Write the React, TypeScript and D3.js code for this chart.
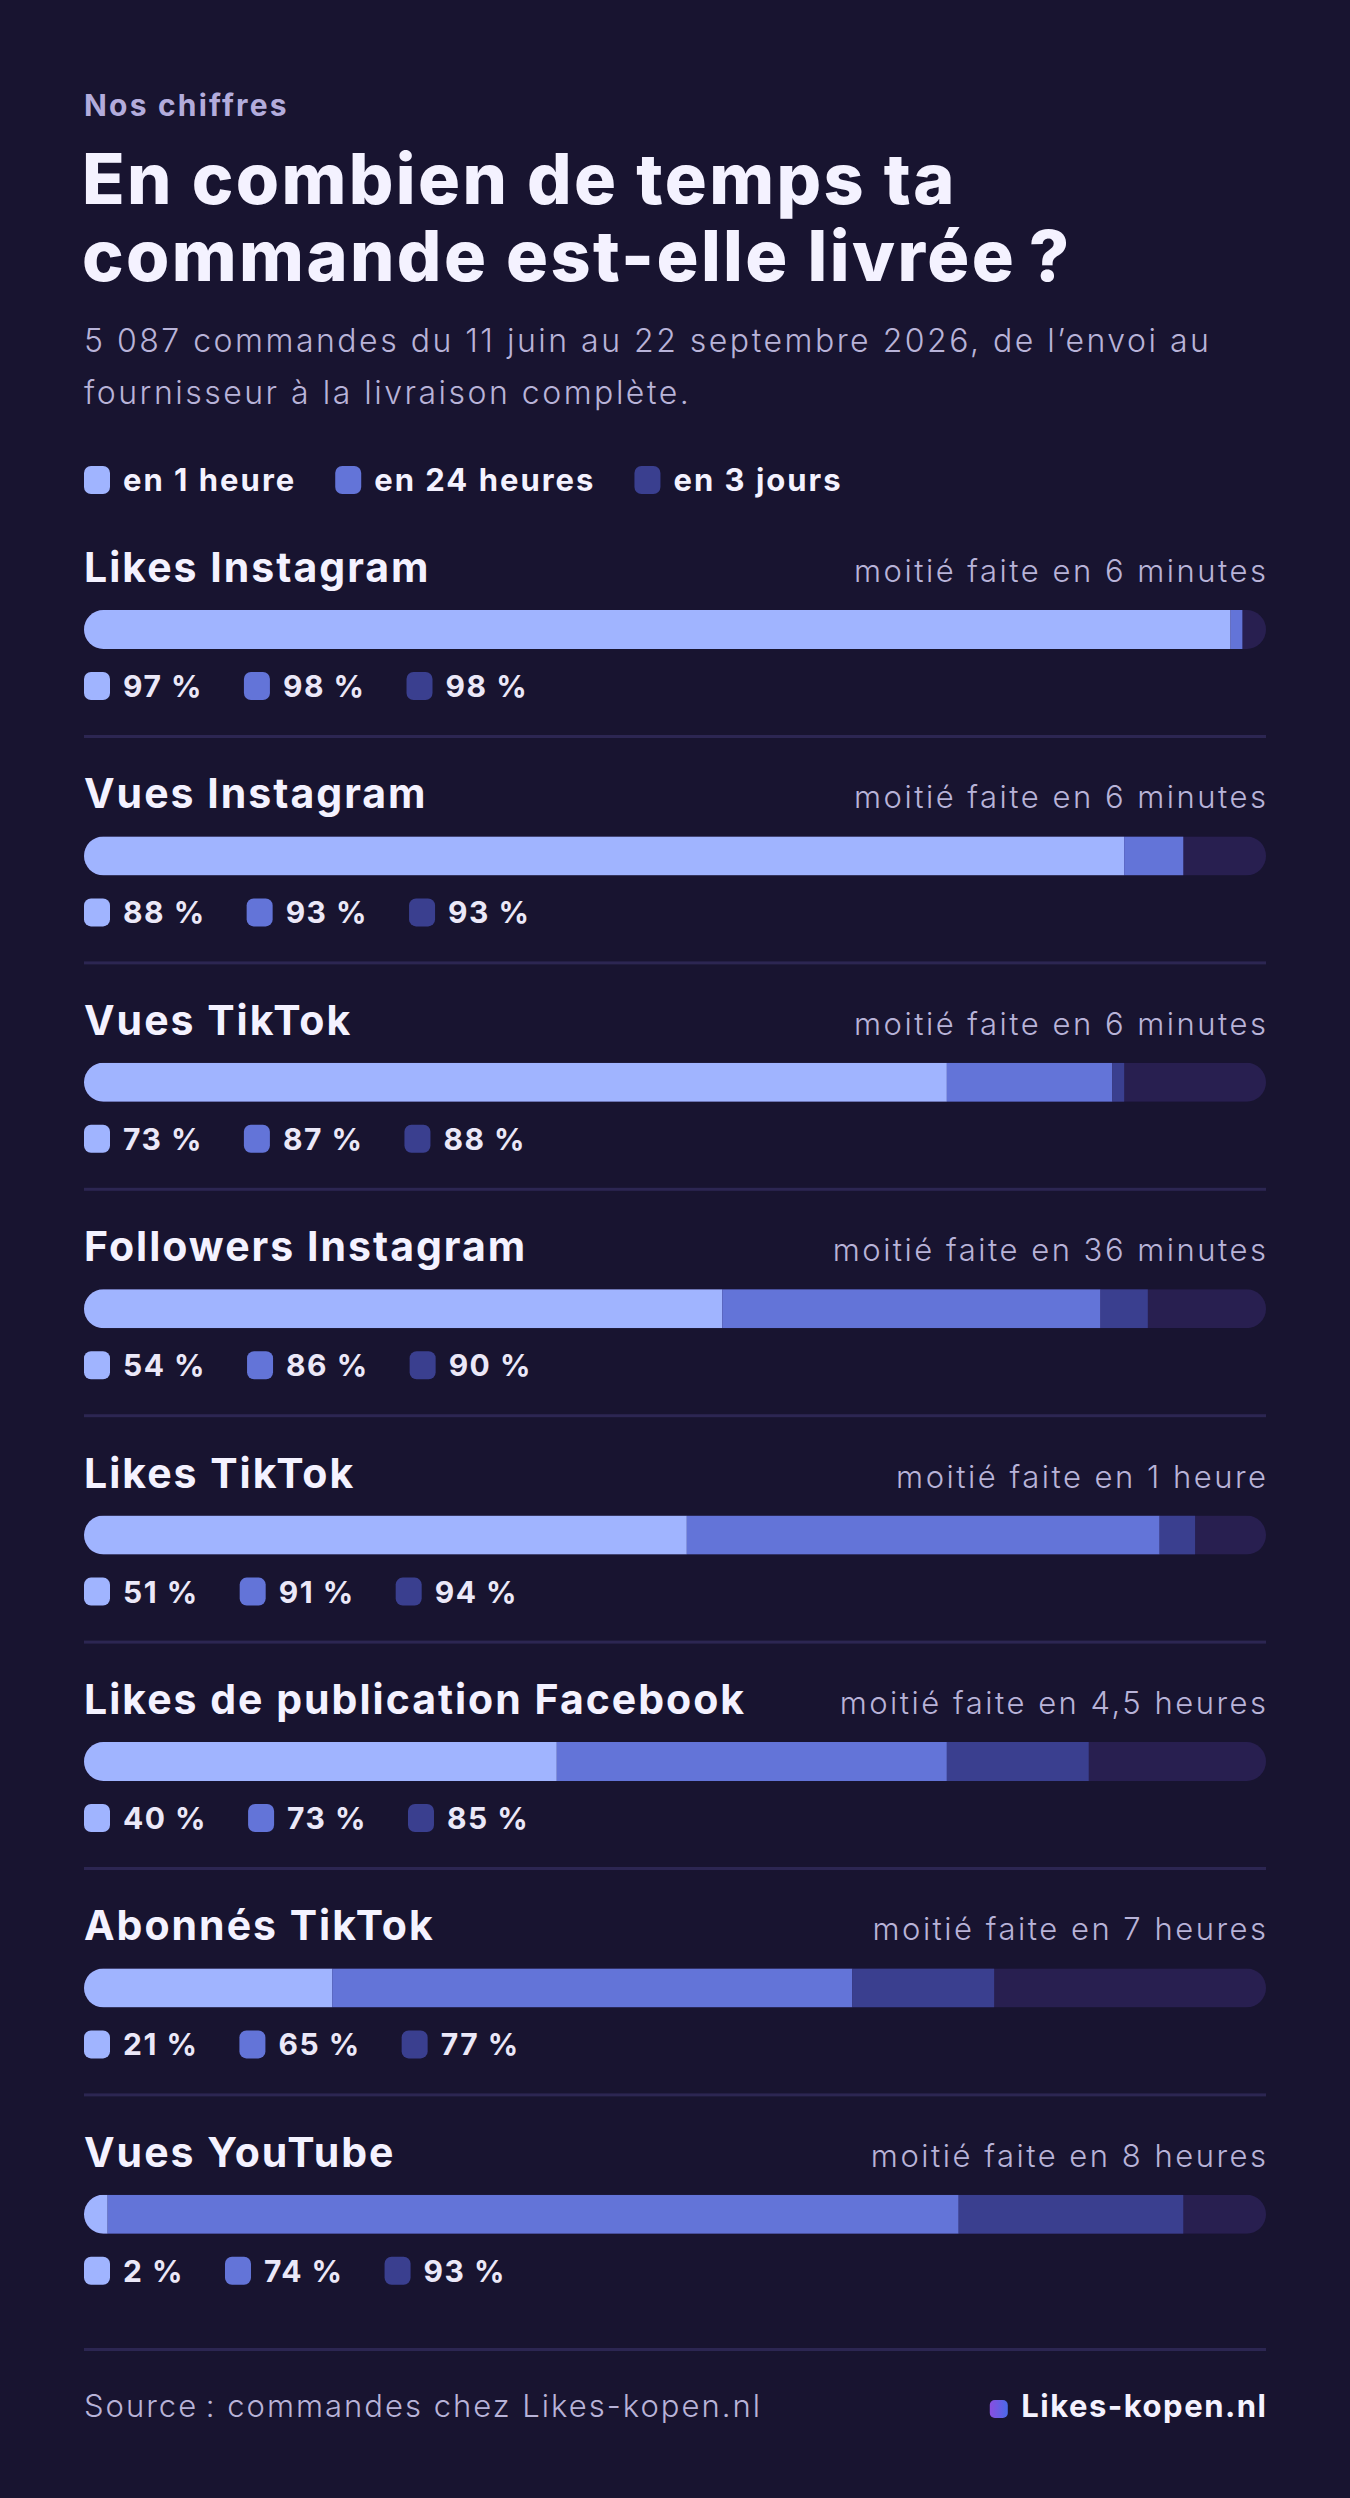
import * as d3 from 'd3';
import { useEffect, useRef } from 'react';

// Data
const categories = [
    'Likes Instagram',
    'Vues Instagram',
    'Vues TikTok',
    'Followers Instagram',
    'Likes TikTok',
    'Likes de publication Facebook',
    'Abonnés TikTok',
    'Vues YouTube',
];
const inOneHour = [97, 88, 73, 54, 51, 40, 21, 2];
const in24Hours = [98, 93, 87, 86, 91, 73, 65, 74];
const in3Days = [98, 93, 88, 90, 94, 85, 77, 93];
const halfDone = [
    '6 minutes',
    '6 minutes',
    '6 minutes',
    '36 minutes',
    '1 heure',
    '4,5 heures',
    '7 heures',
    '8 heures',
];
const legendLabels = ['en 1 heure', 'en 24 heures', 'en 3 jours'];

const W = 1350;
const H = 2498;
const FONT = 'Inter, "Noto Sans", sans-serif';
const COLORS = ['#a0b4ff', '#6374d8', '#3a3f8f'];
const TRACK = '#281f50';
const BG = '#181430';

const App = () => {
    const svgRef = useRef<SVGSVGElement>(null);

    useEffect(() => {
        const svg = d3.select(svgRef.current);
        svg.selectAll('*').remove();

        const margin = { left: 84, right: 84 };
        const x = d3.scaleLinear().domain([0, 100]).range([margin.left, W - margin.right]);

        svg.append('rect').attr('width', W).attr('height', H).attr('fill', BG);

        const defs = svg.append('defs');
        const grad = defs.append('linearGradient').attr('id', 'logoGrad');
        grad.append('stop').attr('offset', '0%').attr('stop-color', '#8a4ee0');
        grad.append('stop').attr('offset', '100%').attr('stop-color', '#4a6ae8');

        const text = (
            g: d3.Selection<any, any, any, any>,
            tx: number,
            ty: number,
            s: string,
            size: number,
            weight: number,
            fill: string,
            spacing = 0,
            anchor = 'start'
        ) =>
            g.append('text')
                .attr('x', anchor === 'end' ? tx + spacing : tx)
                .attr('y', ty)
                .attr('font-family', FONT)
                .attr('font-size', size)
                .attr('font-weight', weight)
                .attr('letter-spacing', spacing)
                .attr('fill', fill)
                .attr('text-anchor', anchor)
                .text(s);

        // Header
        text(svg, 84, 116, 'Nos chiffres', 30, 700, '#b3acdc', 2.2);
        text(svg, 82, 204, 'En combien de temps ta', 70, 800, '#f4f2ff', 2.4);
        text(svg, 82, 281, 'commande est-elle livrée\u202f?', 70, 800, '#f4f2ff', 2.4);
        text(svg, 84, 352, '5 087 commandes du 11 juin au 22 septembre 2026, de l’envoi au', 32, 300, '#b8b3d8', 2.5);
        text(svg, 84, 404, 'fournisseur à la livraison complète.', 32, 300, '#b8b3d8', 2.5);

        // Legend
        let lx = 84;
        legendLabels.forEach((lab, i) => {
            svg.append('rect')
                .attr('x', lx).attr('y', 466).attr('width', 26).attr('height', 28).attr('rx', 7)
                .attr('fill', COLORS[i]);
            const t = text(svg, lx + 39, 491, lab, 31, 700, '#f4f2ff', 2);
            const w = (t.node() as SVGTextElement).getComputedTextLength();
            lx += 39 + w + 39;
        });

        // Rows
        const pitch = 226.4;
        const barH = 39;
        categories.forEach((cat, i) => {
            const off = i * pitch;
            const g = svg.append('g').attr('transform', `translate(0,${off})`);

            text(g, 84, 582, cat, 41, 700, '#f4f2ff', 2);
            text(g, W - margin.right, 582, `moitié faite en ${halfDone[i]}`, 31, 300, '#b8b3d8', 2.5, 'end');

            const clipId = `clip-${i}`;
            defs.append('clipPath').attr('id', clipId)
                .append('rect')
                .attr('x', x(0)).attr('y', 610 + off)
                .attr('width', x(100) - x(0)).attr('height', barH)
                .attr('rx', barH / 2);

            const bars = g.append('g').attr('clip-path', `url(#${clipId})`)
                .attr('transform', `translate(0,${-off})`);
            const stops = [0, inOneHour[i], in24Hours[i], in3Days[i]];
            bars.append('rect')
                .attr('x', x(0)).attr('y', 610 + off)
                .attr('width', x(100) - x(0)).attr('height', barH)
                .attr('fill', TRACK);
            bars.selectAll('.seg')
                .data([0, 1, 2])
                .enter()
                .append('rect')
                .attr('class', 'seg')
                .attr('x', (d) => x(stops[d]))
                .attr('y', 610 + off)
                .attr('width', (d) => Math.max(0, x(stops[d + 1]) - x(stops[d])))
                .attr('height', barH)
                .attr('fill', (d) => COLORS[d]);

            // Value labels
            const vals = [inOneHour[i], in24Hours[i], in3Days[i]];
            let vx = 84;
            vals.forEach((v, k) => {
                g.append('rect')
                    .attr('x', vx).attr('y', 672).attr('width', 26).attr('height', 28).attr('rx', 7)
                    .attr('fill', COLORS[k]);
                const t = text(g, vx + 39, 697, `${v} %`, 30, 700, '#ebe8f8', 1.5);
                const w = (t.node() as SVGTextElement).getComputedTextLength();
                vx += 39 + w + 41;
            });

            const sepY = i === categories.length - 1 ? 2349 - off : 736;
            g.append('rect')
                .attr('x', x(0)).attr('y', sepY - 1)
                .attr('width', x(100) - x(0)).attr('height', 3)
                .attr('fill', '#2c2652');
        });

        // Footer
        text(svg, 84, 2417, 'Source\u202f: commandes chez Likes-kopen.nl', 31, 300, '#b8b3d8', 2);
        const brand = text(svg, W - margin.right, 2417, 'Likes-kopen.nl', 31, 700, '#f4f2ff', 1.5, 'end');
        const bw = (brand.node() as SVGTextElement).getComputedTextLength();
        svg.append('rect')
            .attr('x', W - margin.right - bw - 30).attr('y', 2400)
            .attr('width', 18).attr('height', 18).attr('rx', 5)
            .attr('fill', 'url(#logoGrad)');
    }, []);

    return (
        <div style={{ position: 'absolute', left: 0, top: 0, width: W, height: H }}>
            <svg ref={svgRef} width={W} height={H} style={{ display: 'block' }}></svg>
        </div>
    );
};

export default App;
